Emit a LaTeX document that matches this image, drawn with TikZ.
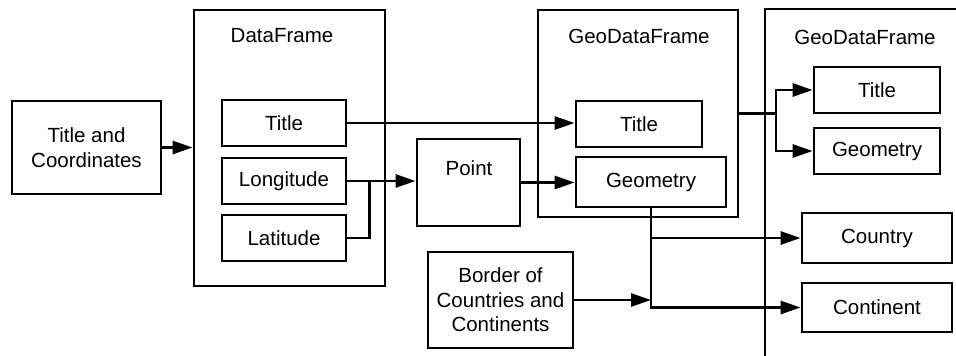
\documentclass[tikz,border=0pt]{standalone}
\usepackage{fontspec}
\setmainfont{Liberation Sans}
\usetikzlibrary{arrows.meta}
\begin{document}
\begin{tikzpicture}[x=1pt,y=-1pt,
  box/.style={draw,line width=2.8pt,inner sep=0pt,align=center,
    font=\fontsize{20.5}{24.5}\selectfont},
  lbl/.style={inner sep=0pt,font=\fontsize{20.5}{24}\selectfont},
  wire/.style={line width=2.8pt},
  arr/.style={wire,-{Triangle[length=20pt,width=13pt]}}]
\useasboundingbox (0,0) rectangle (956,356);
\clip (0,0) rectangle (956,356);

% source table
\node[box,minimum width=149pt,minimum height=93pt] (tc) at (86.5,147.5) {Title and\\Coordinates};

% DataFrame
\node[box,minimum width=191pt,minimum height=276pt] (df) at (289.5,148) {};
\node[lbl] (dflbl) at (282,36) {DataFrame};
\node[box,minimum width=124pt,minimum height=46pt] (dtitle) at (284,123) {Title};
\node[box,minimum width=124pt,minimum height=46pt] (lon) at (284,181) {Longitude};
\node[box,minimum width=124pt,minimum height=46pt] (lat) at (284,238) {Latitude};

% Point constructor
\node[box,minimum width=103pt,minimum height=87pt] (pt) at (468.5,182.5) {};
\node[lbl] (ptlbl) at (469,168) {Point};

% first GeoDataFrame
\node[box,minimum width=200pt,minimum height=207pt] (gdf) at (638,113.5) {};
\node[lbl] (gdflbl) at (639,36) {GeoDataFrame};
\node[box,minimum width=126pt,minimum height=46pt] (gtitle) at (639,124) {Title};
\node[box,minimum width=150pt,minimum height=50pt] (ggeo) at (651,182) {Geometry};

% borders layer
\node[box,minimum width=145pt,minimum height=96pt] (border) at (500.5,300) {Border of\\Countries and\\Continents};

% joined GeoDataFrame
\node[box,minimum width=215pt,minimum height=371pt] (rgdf) at (872.5,194.5) {};
\node[lbl] (rgdflbl) at (865,37) {GeoDataFrame};
\node[box,minimum width=126pt,minimum height=46pt] (rtitle) at (877,90) {Title};
\node[box,minimum width=126pt,minimum height=46pt] (rgeo) at (877,151) {Geometry};
\node[box,minimum width=150pt,minimum height=50pt] (country) at (877,238) {Country};
\node[box,minimum width=150pt,minimum height=49pt] (cont) at (877,307.5) {Continent};

% connectors
\draw[arr] (tc.east) -- (tc.east -| df.west);
\draw[arr] (dtitle.east) -- (dtitle.east -| gtitle.west);
\draw[arr] (lon.east) -- (lon.east -| pt.west);
\coordinate (latjoin) at ([xshift=22pt]lon.east);
\draw[wire] (lat.east) -| (latjoin);
\draw[arr] (pt.east) -- (pt.east -| ggeo.west);
\draw[arr] (ggeo.south) |- (cont.west);
\draw[arr] (ggeo.south |- country.west) -- (country.west);
\draw[arr] (border.east) -- (border.east -| ggeo.south);
\coordinate (split) at (776,113.5);
\draw[wire] (gdf.east) -- (split);
\draw[arr] (split) |- (rtitle.west);
\draw[arr] (split) |- (rgeo.west);
\end{tikzpicture}
\end{document}
